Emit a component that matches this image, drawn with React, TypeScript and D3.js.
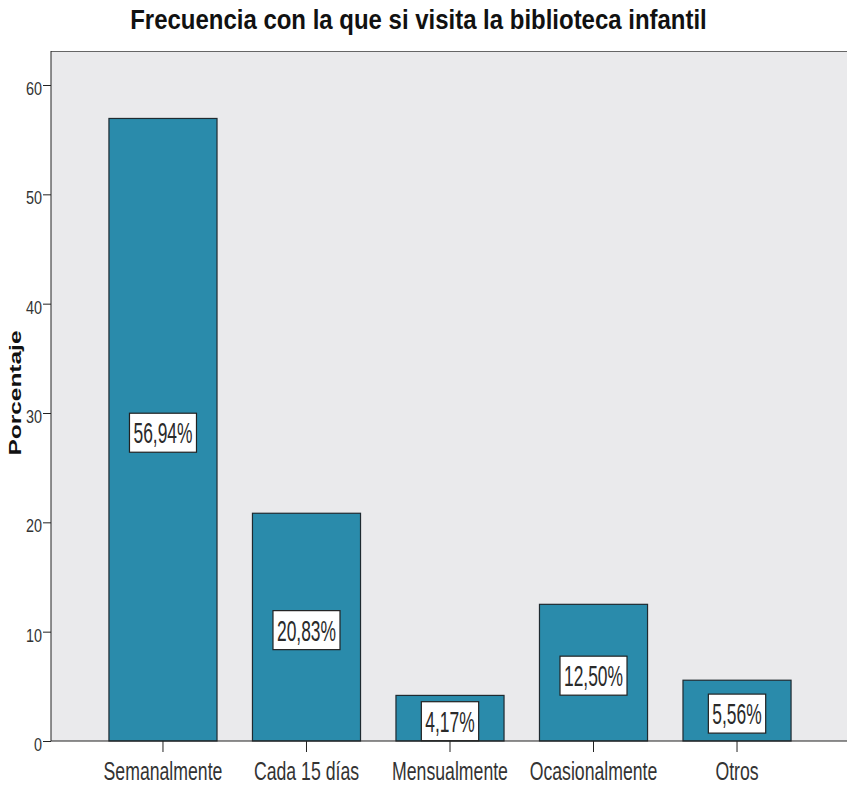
import React, { useEffect, useRef } from "react";
import * as d3 from "d3";

// data
const categories = ["Semanalmente", "Cada 15 días", "Mensualmente", "Ocasionalmente", "Otros"];
const percentages = [56.94, 20.83, 4.17, 12.5, 5.56];
const valueLabels = ["56,94%", "20,83%", "4,17%", "12,50%", "5,56%"];
const yTicks = [0, 10, 20, 30, 40, 50, 60];

const W = 847;
const H = 785;
const FONT = "'Liberation Sans', Arial, sans-serif";

// squeeze text horizontally (the original uses a narrow font, stretched tall)
// scale about the text's own anchor point so positions stay put
function squeeze(sel: d3.Selection<any, any, any, any>, k: number) {
  sel.each(function () {
    const t = d3.select(this as SVGTextElement);
    const x0 = +(t.attr("x") || 0);
    const prev = t.attr("transform") || "";
    t.attr("x", x0 / k).attr("transform", `${prev} scale(${k},1)`);
  });
}

export default function App() {
  const ref = useRef<SVGSVGElement | null>(null);

  useEffect(() => {
    const svg = d3.select(ref.current);
    svg.selectAll("*").remove();

    // plot frame
    const left = 51, top = 51, bottom = 741;

    const y = d3.scaleLinear().domain([0, 60]).range([bottom, 85]);
    const x = d3.scaleBand<string>().domain(categories).range([73.5, 826.5]).paddingInner(0.247).paddingOuter(0.247);

    svg.append("rect").attr("x", 0).attr("y", 0).attr("width", W).attr("height", H).attr("fill", "#ffffff");
    svg.append("rect").attr("x", left).attr("y", top).attr("width", W - left).attr("height", bottom - top)
      .attr("fill", "#eaeaec");
    svg.append("line").attr("x1", left).attr("x2", W).attr("y1", top + 0.5).attr("y2", top + 0.5)
      .attr("stroke", "#666").attr("stroke-width", 1);

    // bars
    svg.selectAll("rect.bar").data(percentages).join("rect").attr("class", "bar")
      .attr("x", (d, i) => x(categories[i])!)
      .attr("y", d => y(d))
      .attr("width", x.bandwidth())
      .attr("height", d => bottom - y(d))
      .attr("fill", "#2a8bab")
      .attr("stroke", "#1f2a30")
      .attr("stroke-width", 1.2);

    // value labels (white boxes)
    const lab = svg.selectAll("g.lab").data(percentages).join("g").attr("class", "lab")
      .attr("transform", (d, i) => `translate(${x(categories[i])! + x.bandwidth() / 2}, ${(y(d) + bottom) / 2 + 3})`);
    const vt = lab.append("text")
      .attr("text-anchor", "middle").attr("y", 10.5)
      .attr("font-family", FONT).attr("font-size", 30).attr("fill", "#2a2a2a")
      .text((d, i) => valueLabels[i]);
    squeeze(vt, 0.58);
    lab.each(function () {
      const g = d3.select(this);
      const w = (g.select("text").node() as SVGTextElement).getComputedTextLength() * 0.58;
      g.insert("rect", "text")
        .attr("x", -w / 2 - 4).attr("y", -19.5)
        .attr("width", w + 8).attr("height", 39)
        .attr("fill", "#ffffff").attr("stroke", "#222").attr("stroke-width", 1.2);
    });

    // y axis
    const ya = svg.append("g").attr("transform", `translate(${left},0)`)
      .call(d3.axisLeft(y).tickValues(yTicks).tickSize(8).tickPadding(1).tickFormat(d3.format("d")));
    ya.select(".domain").attr("stroke", "#222").attr("d", `M0,${top}V${bottom}`);
    ya.selectAll(".tick line").attr("stroke", "#222");
    const yt = ya.selectAll(".tick text").attr("font-family", FONT).attr("font-size", 18)
      .attr("fill", "#333").attr("dy", "0.52em");
    squeeze(yt, 0.8);

    // x axis
    svg.append("line").attr("x1", left).attr("x2", W).attr("y1", bottom).attr("y2", bottom)
      .attr("stroke", "#222").attr("stroke-width", 1.2);
    const xa = svg.append("g").attr("transform", `translate(0,${bottom})`)
      .call(d3.axisBottom(x).tickSize(11).tickPadding(9.5));
    xa.select(".domain").remove();
    xa.selectAll(".tick line").attr("stroke", "#222");
    const xt = xa.selectAll(".tick text").attr("font-family", FONT).attr("font-size", 26).attr("fill", "#333");
    squeeze(xt, 0.68);

    // axis title
    const at = svg.append("text")
      .attr("text-anchor", "middle")
      .attr("font-family", FONT).attr("font-weight", "bold")
      .attr("font-size", 17).attr("fill", "#111")
      .text("Porcentaje");
    const atLen = (at.node() as SVGTextElement).getComputedTextLength();
    at.attr("transform", `translate(21,393) rotate(-90) scale(${125 / atLen},1)`);

    // title
    const tt = svg.append("text").attr("text-anchor", "middle")
      .attr("font-family", FONT).attr("font-weight", "bold").attr("font-size", 28).attr("fill", "#111")
      .text("Frecuencia con la que si visita la biblioteca infantil");
    const ttLen = (tt.node() as SVGTextElement).getComputedTextLength();
    tt.attr("transform", `translate(418.5,29) scale(${577 / ttLen},1)`);
  }, []);

  return (
    <svg ref={ref} width={W} height={H} style={{ position: "absolute", left: 0, top: 0 }} />
  );
}
